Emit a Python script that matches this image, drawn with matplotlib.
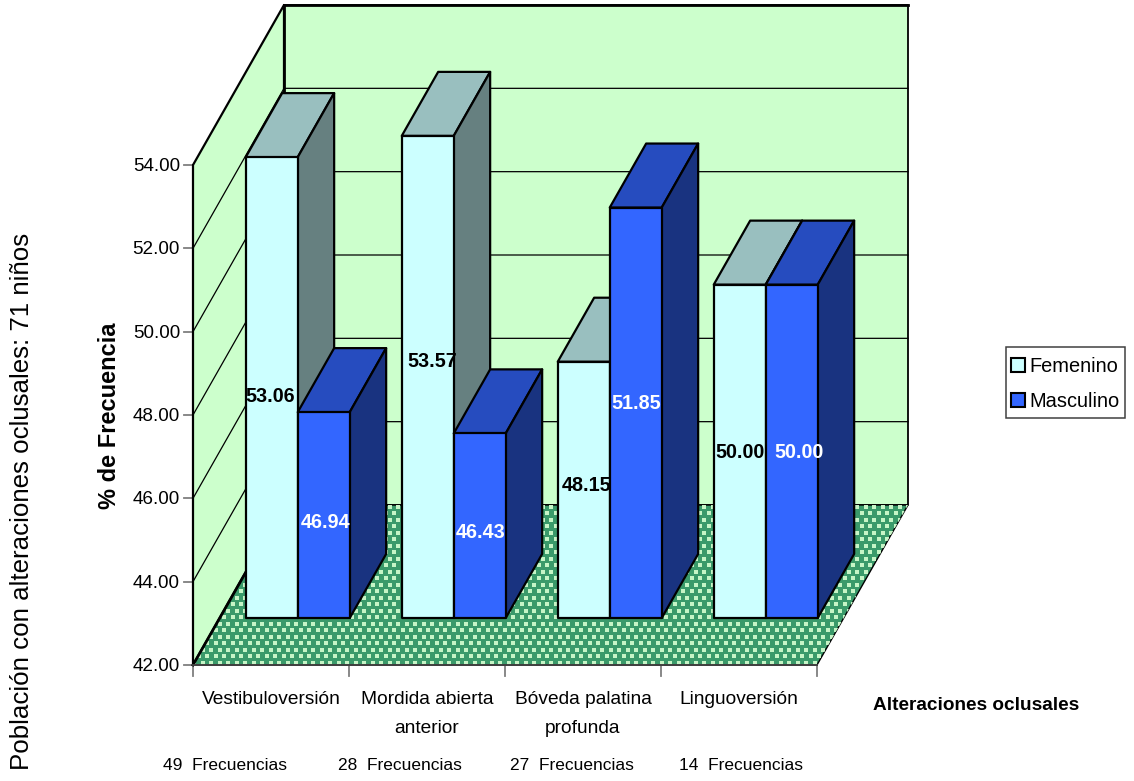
import matplotlib
matplotlib.use('Agg')
import matplotlib.pyplot as plt
import numpy as np
from matplotlib.patches import Polygon, Patch, Rectangle

plt.rcParams['font.family'] = ['Liberation Sans', 'DejaVu Sans']

categories = ['Vestibuloversión', 'Mordida abierta\nanterior',
              'Bóveda palatina\nprofunda', 'Linguoversión']
frecuencias = [49, 28, 27, 14]
femenino = [53.06, 53.57, 48.15, 50.00]
masculino = [46.94, 46.43, 51.85, 50.00]
y_ticks = [42, 44, 46, 48, 50, 52, 54]

# oblique projection, result is in pixels of the full-figure axes
X0, Y0 = 193, 665
CAT_W, PX_PER_UNIT = 156, 500 / 12
DEPTH_X, DEPTH_Y = 91, 160
BASE = 42


def project(cat, val, depth=0.0):
    return (X0 + cat * CAT_W + depth * DEPTH_X,
            Y0 - (val - BASE) * PX_PER_UNIT - depth * DEPTH_Y)


fig = plt.figure(figsize=(11.34, 7.81), dpi=100)
ax = fig.add_axes([0, 0, 1, 1])
ax.set_xlim(0, 1134)
ax.set_ylim(781, 0)
ax.axis('off')


def face(points, color, lw=1.6, z=2):
    poly = Polygon(points, closed=True, facecolor=color, edgecolor='black',
                   linewidth=lw, joinstyle='round', zorder=z)
    ax.add_patch(poly)
    return poly


WALL = '#ccffcc'
top = y_ticks[-1]
n = len(categories)

# walls
face([project(0, BASE), project(0, BASE, 1), project(0, top, 1), project(0, top)], WALL, lw=1.6)
face([project(0, BASE, 1), project(n, BASE, 1), project(n, top, 1), project(0, top, 1)], WALL, lw=1.3)
ax.plot(*zip(project(0, top, 1), project(n, top, 1)), color='black', lw=2, zorder=2)
ax.plot(*zip(project(0, BASE, 1), project(0, top, 1)), color='black', lw=2, zorder=2)

# gridlines over both walls
for v in y_ticks[1:-1]:
    a, b, c = project(0, v), project(0, v, 1), project(n, v, 1)
    ax.plot([a[0], b[0], c[0]], [a[1], b[1], c[1]], color='black', lw=0.9, zorder=2)

# floor, dotted
floor = face([project(0, BASE), project(n, BASE), project(n, BASE, 1), project(0, BASE, 1)],
             '#3a9a6a', lw=1.0, z=3)
gx, gy = np.meshgrid(np.arange(190, 915, 8.5), np.arange(500, 670, 6.5))
gx[1::2] += 4.25
dots = ax.scatter(gx.ravel(), gy.ravel(), s=8, marker='s', color='#c6f5c6',
                  linewidths=0, zorder=3)
dots.set_clip_path(floor)
ax.plot(*zip(project(0, BASE), project(0, BASE, 1)), color='black', lw=2, zorder=3)

# bars
BAR_W = 1 / 3
Z_FRONT, Z_BACK = 0.294, 0.694
FEM_COLORS = ('#ccffff', '#99bfbf', '#668080')
MAS_COLORS = ('#3366ff', '#264cbf', '#193380')


def bar(left, value, colors):
    right = left + BAR_W
    face([project(left, value, Z_FRONT), project(right, value, Z_FRONT),
          project(right, value, Z_BACK), project(left, value, Z_BACK)], colors[1], z=4)
    face([project(right, BASE, Z_FRONT), project(right, BASE, Z_BACK),
          project(right, value, Z_BACK), project(right, value, Z_FRONT)], colors[2], z=4)
    face([project(left, BASE, Z_FRONT), project(right, BASE, Z_FRONT),
          project(right, value, Z_FRONT), project(left, value, Z_FRONT)], colors[0], z=4)


# labels do not sit exactly in the middle of the bars
fem_nudge = [(-2, 9), (4, -15), (3, -4), (0, 1)]
mas_nudge = [(2, 7), (1, 7), (0, -9), (7, 1)]

for i in range(n):
    fl = i + 1 / 6
    bar(fl, femenino[i], FEM_COLORS)
    bar(fl + BAR_W, masculino[i], MAS_COLORS)

for i in range(n):
    fl = i + 1 / 6
    px, py = project(fl + BAR_W / 2, (BASE + femenino[i]) / 2, Z_FRONT)
    ax.text(px + fem_nudge[i][0], py + fem_nudge[i][1], f'{femenino[i]:.2f}', color='black',
            fontsize=14.2, fontweight='bold', ha='center', va='center', zorder=6)
    px, py = project(fl + 1.5 * BAR_W, (BASE + masculino[i]) / 2, Z_FRONT)
    ax.text(px + mas_nudge[i][0], py + mas_nudge[i][1], f'{masculino[i]:.2f}', color='white',
            fontsize=14.2, fontweight='bold', ha='center', va='center', zorder=6)

# axes
TICK = '#7f7f7f'
ax.plot(*zip(project(0, BASE), project(0, top)), color='black', lw=1.4, zorder=5)
ax.plot(*zip(project(0, BASE), project(n, BASE)), color='#404040', lw=1.4, zorder=5)
for v in y_ticks:
    x, y = project(0, v)
    ax.plot([x - 9, x], [y, y], color=TICK, lw=1.3, zorder=1)
    ax.text(x - 13, y + 1.5, f'{v:.2f}', fontsize=13.6, ha='right', va='center')
for i in range(n + 1):
    x, y = project(i, BASE)
    ax.plot([x, x], [y, y + 11], color=TICK, lw=1.3, zorder=1)

# the counts under the categories are not evenly spaced
freq_x = [163, 338, 510, 679]
for i, cat in enumerate(categories):
    x, y = project(i + 0.5, BASE)
    ax.text(x, y + 26, cat, fontsize=13.8, ha='center', va='top', linespacing=1.95)
    ax.text(freq_x[i], 766, f'{frecuencias[i]}  Frecuencias', fontsize=12.5, ha='left', va='center')

ax.text(976.5, 706, 'Alteraciones oclusales', fontsize=13.7, fontweight='bold',
        ha='center', va='center')
ax.text(110, 416, '% de Frecuencia', fontsize=17, fontweight='bold', rotation=90,
        ha='center', va='center')
ax.text(22, 501, 'Población con alteraciones oclusales: 71 niños', fontsize=18.6,
        rotation=90, ha='center', va='center')

# legend box is a little tighter than the text padding allows, so it gets its own frame
ax.add_patch(Rectangle((1006, 347), 119, 71, facecolor='white', edgecolor='#404040',
                       linewidth=1.1, zorder=6))
handles = [Patch(facecolor=FEM_COLORS[0], edgecolor='black', linewidth=1.5),
           Patch(facecolor=MAS_COLORS[0], edgecolor='black', linewidth=1.5)]
leg = ax.legend(handles, ['Femenino', 'Masculino'], loc='center',
                bbox_to_anchor=(1065.5, 384), bbox_transform=ax.transData,
                fontsize=14.4, frameon=False, handlelength=0.7, handleheight=0.7,
                handletextpad=0.2, labelspacing=0.8, borderpad=0, borderaxespad=0)
leg.set_zorder(7)

fig.savefig('out.png', dpi=100)
